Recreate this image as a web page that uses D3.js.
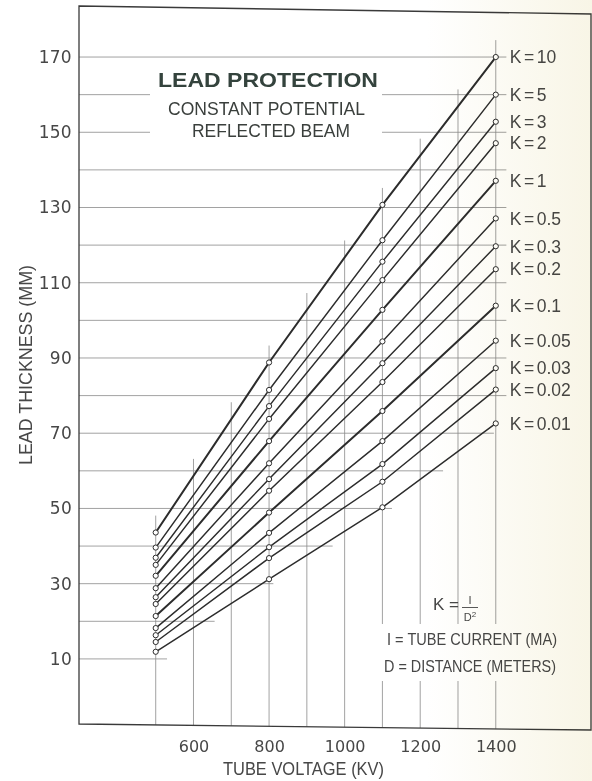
<!DOCTYPE html>
<html>
<head>
<meta charset="utf-8">
<script src="https://cdn.jsdelivr.net/npm/d3@7"></script>
<style>
  html, body { margin: 0; padding: 0; background: #fff; }
  svg { display: block; }
</style>
</head>
<body>
<svg id="chart" width="592" height="781"></svg>
<script>
// Tube voltages (kV) at which every curve is marked
const voltages = [500, 800, 1100, 1400];

// K = I / D², one curve each, top to bottom
const kLabels = ["10", "5", "3", "2", "1", "0.5", "0.3", "0.2", "0.1", "0.05", "0.03", "0.02", "0.01"];

// Lead thickness (mm) at 500, 800, 1100 and 1400 kV for each K
const leadK10   = [43.6, 88.8, 130.7, 170.0];
const leadK5    = [39.6, 81.5, 121.3, 160.0];
const leadK3    = [36.9, 77.2, 115.6, 152.8];
const leadK2    = [35.0, 73.8, 110.7, 147.1];
const leadK1    = [32.1, 67.9, 102.8, 137.1];
const leadK05   = [28.8, 62.0,  94.4, 127.1];
const leadK03   = [26.4, 57.8,  88.6, 119.7];
const leadK02   = [24.6, 54.7,  83.6, 113.6];
const leadK01   = [21.4, 48.9,  75.9, 103.9];
const leadK005  = [18.2, 43.5,  67.9,  94.6];
const leadK003  = [16.3, 39.7,  61.8,  87.3];
const leadK002  = [14.5, 36.8,  57.1,  81.6];
const leadK001  = [11.9, 31.2,  50.3,  72.6];

const series = [leadK10, leadK5, leadK3, leadK2, leadK1, leadK05, leadK03,
                leadK02, leadK01, leadK005, leadK003, leadK002, leadK001];

// Curves drawn heavier (whole decades of K)
const heavyK = ["10", "1", "0.1"];

// Axis ticks and grid
const yTicks = [10, 30, 50, 70, 90, 110, 130, 150, 170];
const xTicks = [600, 800, 1000, 1200, 1400];
const gridVoltages = d3.range(500, 1401, 100);
const gridLeads = d3.range(10, 171, 10);

const svg = d3.select("#chart");

const x = d3.scaleLinear().domain([297, 1652]).range([79, 591]);
const y = d3.scaleLinear().domain([-7.3, 183.3]).range([724, 7]);

const [fx0, fx1] = x.range();
const [fyB, fyT] = y.range();
// the printed frame sits a little askew on the page
const tiltTop = 8, tiltBot = 6;
const bottomAt = px => fyB + (px - fx0) / (fx1 - fx0) * tiltBot;

const ink = "#2c2c2c";
const gridCol = "#8a8a8a";
const textCol = "#474747";

// linear interpolation of a curve at any voltage
function valueAt(s, kv) {
  for (let i = 1; i < voltages.length; i++) {
    if (kv <= voltages[i] || i === voltages.length - 1) {
      const t = (kv - voltages[i - 1]) / (voltages[i] - voltages[i - 1]);
      return s[i - 1] + t * (s[i] - s[i - 1]);
    }
  }
}
// voltage where the lowest curve reaches a given thickness
const lowest = series[series.length - 1];
function crossing(v) {
  if (v <= lowest[0]) return voltages[0];
  for (let i = 1; i < voltages.length; i++) {
    if (v <= lowest[i]) {
      const t = (v - lowest[i - 1]) / (lowest[i] - lowest[i - 1]);
      return voltages[i - 1] + t * (voltages[i] - voltages[i - 1]);
    }
  }
  return Infinity;
}

const grid = svg.append("g").attr("stroke", gridCol).attr("stroke-width", 0.8).attr("fill", "none");

// horizontal rules run from the left frame to just past the lowest curve
grid.selectAll("line.h").data(gridLeads).join("line").attr("class", "h")
  .attr("x1", fx0).attr("x2", d => x(Math.min(crossing(d) + 30, 1428)))
  .attr("y1", d => y(d)).attr("y2", d => y(d));

// vertical rules rise from the bottom to just above the top curve
grid.selectAll("line.v").data(gridVoltages).join("line").attr("class", "v")
  .attr("x1", d => x(d)).attr("x2", d => x(d))
  .attr("y1", d => y(valueAt(leadK10, d) + 4.5))
  .attr("y2", d => bottomAt(x(d)));

// clear panels behind the headings and the key
svg.append("rect").attr("x", 150).attr("y", 64).attr("width", 232).attr("height", 82).attr("fill", "#fff");
svg.append("rect").attr("x", 378).attr("y", 624).attr("width", 190).attr("height", 57).attr("fill", "#fff");

// frame
svg.append("path")
  .attr("d", `M${fx0},${fyT - 1}L${fx1},${fyT - 1 + tiltTop}L${fx1},${fyB + tiltBot}L${fx0},${fyB}Z`)
  .attr("fill", "none").attr("stroke", "#3a3a3a").attr("stroke-width", 1.3);

// curves
const line = d3.line().x((d, i) => x(voltages[i])).y(d => y(d));
svg.append("g").selectAll("path").data(series).join("path")
  .attr("d", d => line(d))
  .attr("fill", "none").attr("stroke", ink)
  .attr("stroke-width", (d, i) => heavyK.includes(kLabels[i]) ? 2.0 : 1.45);

// marker circles
const marks = svg.append("g");
series.forEach(s => {
  marks.selectAll(null).data(s).join("circle")
    .attr("cx", (d, i) => x(voltages[i])).attr("cy", d => y(d)).attr("r", 2.6)
    .attr("fill", "#fff").attr("stroke", ink).attr("stroke-width", 1);
});

// K labels at the right end of each curve
const kg = svg.append("g").attr("font-family", "Liberation Sans, Arial, sans-serif")
  .attr("font-size", 17.5).attr("fill", textCol);
kLabels.forEach((k, i) => {
  const t = kg.append("text").attr("x", x(1400) + 14).attr("y", y(series[i][3])).attr("dy", "0.36em");
  t.append("tspan").text("K");
  t.append("tspan").attr("dx", 2.5).text("=");
  t.append("tspan").attr("dx", 2.5).text(k);
});

// axes
const yAxis = svg.append("g").attr("transform", `translate(${fx0},0)`)
  .call(d3.axisLeft(y).tickValues(yTicks).tickSize(0).tickPadding(7));
yAxis.select(".domain").remove();
yAxis.selectAll("text").attr("font-family", "DejaVu Sans, sans-serif").attr("font-size", 17)
  .attr("fill", textCol).attr("letter-spacing", 0.3);

const xAxis = svg.append("g").attr("transform", `translate(0,${fyB})`)
  .call(d3.axisBottom(x).tickValues(xTicks).tickFormat(d3.format("d")).tickSize(0).tickPadding(16.5));
xAxis.select(".domain").remove();
xAxis.selectAll("text").attr("font-family", "DejaVu Sans, sans-serif").attr("font-size", 16)
  .attr("fill", textCol);

// axis titles
const sans = "Liberation Sans, Arial, sans-serif";
svg.append("text").attr("transform", "translate(31.5,365) rotate(-90)")
  .attr("text-anchor", "middle").attr("font-family", sans).attr("font-size", 19)
  .attr("fill", textCol).attr("textLength", 200).attr("lengthAdjust", "spacingAndGlyphs")
  .text("LEAD THICKNESS (MM)");
svg.append("text").attr("x", 303.5).attr("y", 775)
  .attr("text-anchor", "middle").attr("font-family", sans).attr("font-size", 18.5)
  .attr("fill", textCol).attr("textLength", 161).attr("lengthAdjust", "spacingAndGlyphs")
  .text("TUBE VOLTAGE (KV)");

// headings
svg.append("text").attr("x", 158).attr("y", 86.5)
  .attr("font-family", sans).attr("font-weight", "bold").attr("font-size", 21)
  .attr("fill", "#34433d").attr("textLength", 220).attr("lengthAdjust", "spacingAndGlyphs")
  .text("LEAD PROTECTION");
svg.append("text").attr("x", 168).attr("y", 115)
  .attr("font-family", sans).attr("font-size", 18)
  .attr("fill", "#3a3f3c").attr("textLength", 197).attr("lengthAdjust", "spacingAndGlyphs")
  .text("CONSTANT POTENTIAL");
svg.append("text").attr("x", 192).attr("y", 137)
  .attr("font-family", sans).attr("font-size", 18)
  .attr("fill", "#3a3f3c").attr("textLength", 158).attr("lengthAdjust", "spacingAndGlyphs")
  .text("REFLECTED BEAM");

// key: K = I / D²
svg.append("text").attr("x", 433).attr("y", 610)
  .attr("font-family", sans).attr("font-size", 17).attr("fill", textCol)
  .text("K =");
svg.append("text").attr("x", 470).attr("y", 604).attr("text-anchor", "middle")
  .attr("font-family", sans).attr("font-size", 11).attr("fill", textCol).text("I");
svg.append("line").attr("x1", 462).attr("x2", 478).attr("y1", 607.5).attr("y2", 607.5)
  .attr("stroke", textCol).attr("stroke-width", 0.9);
const dd = svg.append("text").attr("x", 470).attr("y", 620.5).attr("text-anchor", "middle")
  .attr("font-family", sans).attr("font-size", 11).attr("fill", textCol);
dd.append("tspan").text("D");
dd.append("tspan").attr("font-size", 8).attr("dy", -4).text("2");

svg.append("text").attr("x", 387).attr("y", 645)
  .attr("font-family", sans).attr("font-size", 17).attr("fill", textCol)
  .attr("textLength", 170).attr("lengthAdjust", "spacingAndGlyphs")
  .text("I = TUBE CURRENT (MA)");
svg.append("text").attr("x", 384).attr("y", 672)
  .attr("font-family", sans).attr("font-size", 17).attr("fill", textCol)
  .attr("textLength", 172).attr("lengthAdjust", "spacingAndGlyphs")
  .text("D = DISTANCE (METERS)");

// paper tone, slightly cream towards the right edge, laid over everything
const defs = svg.append("defs");
const grad = defs.append("linearGradient").attr("id", "paper")
  .attr("x1", "0").attr("x2", "1").attr("y1", "0").attr("y2", "0");
grad.append("stop").attr("offset", "0.72").attr("stop-color", "#ffffff");
grad.append("stop").attr("offset", "1").attr("stop-color", "#f8f5e6");
svg.append("rect").attr("width", 592).attr("height", 781).attr("fill", "url(#paper)")
  .style("mix-blend-mode", "multiply").attr("pointer-events", "none");
</script>
</body>
</html>
